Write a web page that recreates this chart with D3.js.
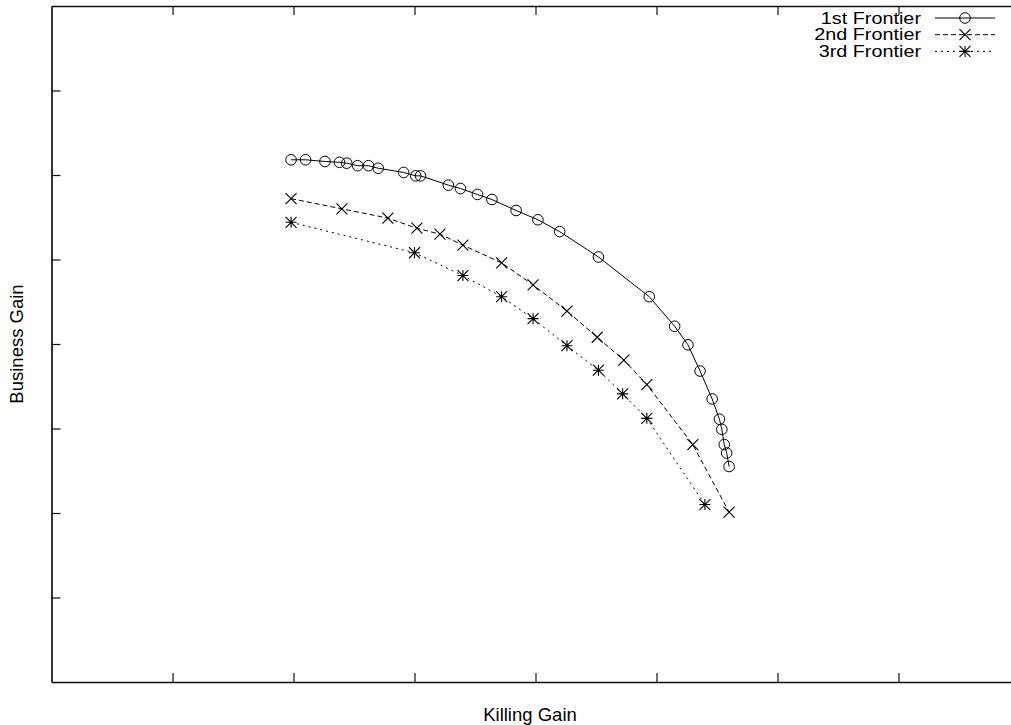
<!DOCTYPE html>
<html><head><meta charset="utf-8">
<script src="https://cdn.jsdelivr.net/npm/d3@7"></script>
<style>body{margin:0;background:#fff}svg{display:block}text{font-family:"Liberation Sans",Arial,sans-serif;fill:#000}</style>
</head><body>
<svg id="c" width="1011" height="725"></svg>
<script>
const seriesNames = ["1st Frontier", "2nd Frontier", "3rd Frontier"];
const xTicks = [1, 2, 3, 4, 5, 6, 7];
const yTicks = [1, 2, 3, 4, 5, 6, 7];
const frontier1X = [1.98,2.10,2.26,2.38,2.44,2.53,2.62,2.70,2.91,3.01,3.05,3.28,3.38,3.52,3.64,3.84,4.02,4.20,4.52,4.94,5.15,5.26,5.36,5.46,5.52,5.54,5.56,5.58,5.60];
const frontier1Y = [6.18,6.18,6.16,6.15,6.14,6.11,6.11,6.08,6.03,5.99,5.99,5.88,5.84,5.77,5.71,5.58,5.47,5.33,5.03,4.56,4.21,3.99,3.68,3.35,3.11,2.99,2.81,2.71,2.55];
const frontier2X = [1.98,2.40,2.78,3.02,3.21,3.40,3.72,3.98,4.26,4.51,4.73,4.92,5.30,5.60];
const frontier2Y = [5.72,5.60,5.49,5.37,5.30,5.17,4.96,4.70,4.39,4.08,3.81,3.52,2.81,2.01];
const frontier3X = [1.98,3.00,3.40,3.72,3.98,4.26,4.52,4.72,4.92,5.40];
const frontier3Y = [5.44,5.08,4.81,4.56,4.30,3.98,3.69,3.41,3.12,2.10];
const xLabel = "Killing Gain", yLabel = "Business Gain";

const svg = d3.select("#c");
const L = 51.5, B = 682, T = 6;
const x = d3.scaleLinear().domain([0, 8]).range([L, L + 968]);
const y = d3.scaleLinear().domain([0, 8]).range([B, T]);

const axStyle = g => { g.selectAll("path,line").attr("stroke", "#111"); g.select(".domain").attr("stroke-width", 1.7); g.selectAll(".tick line").attr("stroke-width", 1.2); g.selectAll("text").remove(); };
svg.append("g").attr("transform", `translate(0,${B})`).call(d3.axisBottom(x).tickValues(xTicks).tickSize(-9).tickSizeOuter(0).tickFormat("")).call(axStyle);
svg.append("g").attr("transform", `translate(0,${T})`).call(d3.axisTop(x).tickValues(xTicks).tickSize(-9).tickSizeOuter(0).tickFormat("")).call(axStyle);
svg.append("g").attr("transform", `translate(${L},0)`).call(d3.axisLeft(y).tickValues(yTicks).tickSize(-9).tickSizeOuter(0).tickFormat("")).call(axStyle);

const series = [
  {name: seriesNames[0], xs: frontier1X, ys: frontier1Y, dash: null, marker: "circle"},
  {name: seriesNames[1], xs: frontier2X, ys: frontier2Y, dash: "5,3", marker: "cross"},
  {name: seriesNames[2], xs: frontier3X, ys: frontier3Y, dash: "2,4", marker: "star"}
];
function drawMarker(g, type, cx, cy) {
  if (type === "circle") {
    g.append("circle").attr("cx", cx).attr("cy", cy).attr("r", 5.3).attr("fill", "none").attr("stroke", "#000").attr("stroke-width", 1);
  } else {
    const s = 5.5;
    const p = `M${cx-s},${cy-s}L${cx+s},${cy+s}M${cx-s},${cy+s}L${cx+s},${cy-s}` + (type === "star" ? `M${cx-s},${cy}L${cx+s},${cy}M${cx},${cy-s}L${cx},${cy+s}` : "");
    g.append("path").attr("d", p).attr("stroke", "#000").attr("stroke-width", 1.1).attr("fill", "none");
  }
}
const line = d3.line().x(d => x(d[0])).y(d => y(d[1]));
series.forEach(s => {
  const pts = s.xs.map((v, i) => [v, s.ys[i]]);
  svg.append("path").attr("d", line(pts)).attr("fill", "none").attr("stroke", "#000").attr("stroke-width", 1).attr("stroke-dasharray", s.dash);
  const g = svg.append("g");
  pts.forEach(p => drawMarker(g, s.marker, x(p[0]), y(p[1])));
});

// legend (text widened to match reference's wider glyph rendering)
series.forEach((s, i) => {
  const cy = 18 + i * 16.7;
  const t = svg.append("text").attr("x", 921).attr("y", cy + 5.7).attr("text-anchor", "end").attr("font-size", 16.5).text(s.name);
  const w = t.node().getComputedTextLength();
  t.attr("textLength", w * 1.2).attr("lengthAdjust", "spacingAndGlyphs");
  svg.append("line").attr("x1", 935).attr("x2", 995).attr("y1", cy).attr("y2", cy).attr("stroke", "#000").attr("stroke-width", 1).attr("stroke-dasharray", s.dash);
  drawMarker(svg.append("g"), s.marker, 965, cy);
});

svg.append("text").attr("x", 530).attr("y", 721).attr("text-anchor", "middle").attr("font-size", 18.5).text(xLabel);
svg.append("text").attr("transform", "translate(23,344) rotate(-90)").attr("text-anchor", "middle").attr("font-size", 18.5).text(yLabel);
</script>
</body></html>
